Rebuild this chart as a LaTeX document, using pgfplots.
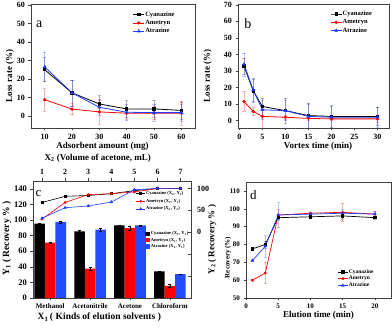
\documentclass[border=0pt]{standalone}
\usepackage{fontspec}
\setmainfont{Liberation Serif}
\usepackage{pgfplots}
\pgfplotsset{compat=1.18}
\definecolor{colCy}{RGB}{0,0,0}
\definecolor{colAm}{RGB}{255,0,0}
\definecolor{colAt}{RGB}{30,60,255}
\definecolor{colAtbar}{RGB}{35,75,255}
\pgfplotsset{
  base/.style={scale only axis, anchor=south west,
    /pgf/number format/assume math mode=true,
    tick label style={font=\bfseries\fontsize{8}{9}\selectfont},
    label style={font=\bfseries\fontsize{9}{10}\selectfont},
    xtick pos=left, ytick pos=left, major tick length=2.5pt, tick align=outside,
    axis line style={black!75, line width=0.6pt},
    every tick/.style={black!75, line width=0.5pt},
    legend cell align=left,
    legend style={draw=none, fill=none, inner sep=0pt, row sep=1.2pt,
      font=\bfseries\fontsize{6.5}{7}\selectfont, nodes={inner sep=0.6pt}},
    legend image code/.code={\draw[mark repeat=2,mark phase=2,##1] plot coordinates {(0pt,0pt) (5.5pt,0pt) (11pt,0pt)};},
  },
  shortline/.style={legend image code/.code={\draw[mark repeat=2,mark phase=2,##1] plot coordinates {(0pt,0pt) (#1,0pt) (2*#1,0pt)};}},
  barleg/.style={legend image code/.code={\fill[##1] (0pt,-2pt) rectangle (5pt,2.2pt);}},
  errs/.style={error bars/.cd, y dir=both, y explicit,
    error bar style={#1, opacity=0.3, line width=0.45pt},
    error mark options={rotate=90, mark size=1.6pt, #1, opacity=0.3, line width=0.45pt}},
  ln/.style={#1, line width=0.8pt, mark size=1.2pt, mark options={solid, fill=#1}},
}
\begin{document}
\begin{tikzpicture}
\useasboundingbox (0,0) rectangle (392pt,328pt);
% ---------- panel a
\begin{axis}[base, at={(31pt,200pt)}, width=164pt, height=124pt,
  xmin=5, xmax=65, ymin=-6.5, ymax=60.5,
  xtick={10,20,...,60}, ytick={0,10,...,60},
  xlabel={Adsorbent amount (mg)}, ylabel={Loss rate (\%)},
  xlabel style={at={(axis description cs:0.436,-0.15)}, anchor=center},
  ylabel style={at={(axis description cs:-0.128,0.42)}, anchor=center},
  legend style={at={(axis description cs:0.62,0.945)}, anchor=north west}]
\addplot[ln=colCy, mark=square*, errs=colCy] table[x=x,y=y,y error=e] {
x y e
10 25 6.5
20 12.5 7
30 6.5 4.5
40 3.8 4.5
50 3.8 4.5
60 3.0 4.5
};
\addplot[ln=colAm, mark=*, errs=colAm] table[x=x,y=y,y error=e] {
x y e
10 8.8 6
20 3.7 3
30 2.2 6.5
40 1.5 3
50 1.5 3.5
60 1.5 6.5
};
\addplot[ln=colAt, mark=triangle*, mark size=1.5pt, errs=colAt] table[x=x,y=y,y error=e] {
x y e
10 26.5 8
20 12.5 7
30 4.7 4.5
40 2.0 4.5
50 1.8 4.5
60 1.8 4.5
};
\legend{Cyanazine, Ametryn, Atrazine}
\node[font=\fontsize{14}{14}\selectfont] at (axis description cs:0.05,0.84) {a};
\end{axis}
% ---------- panel b
\begin{axis}[base, at={(238pt,200pt)}, width=151pt, height=124pt,
  xmin=-0.3, xmax=32.5, ymin=-4.5, ymax=70.5,
  xtick={0,5,...,30}, ytick={0,10,...,70},
  xlabel={Vortex time (min)}, ylabel={Loss rate (\%)},
  xlabel style={at={(axis description cs:0.53,-0.15)}, anchor=center},
  ylabel style={at={(axis description cs:-0.2,0.42)}, anchor=center},
  legend style={at={(axis description cs:0.61,0.95)}, anchor=north west}]
\addplot[ln=colCy, mark=square*, errs=colCy] table[x=x,y=y,y error=e] {
x y e
1 33 5
3 18 7
5 8.5 5
10 6 7.5
15 3 7.5
20 2.5 6.5
30 2.5 5.5
};
\addplot[ln=colAm, mark=*, errs=colAm] table[x=x,y=y,y error=e] {
x y e
1 11.5 6
3 5.5 2.5
5 2.5 7
10 2 1
15 1.3 1
20 1 1
30 1 2
};
\addplot[ln=colAt, mark=triangle*, mark size=1.5pt, errs=colAt] table[x=x,y=y,y error=e] {
x y e
1 34 7
3 18.5 7
5 6.5 6
10 6 6
15 2.5 7.5
20 2 6.5
30 2 6
};
\legend{Cyanazine, Ametryn, Atrazine}
\node[font=\fontsize{14}{14}\selectfont] at (axis description cs:0.066,0.84) {b};
\end{axis}
% ---------- panel c : bars
\begin{axis}[base, at={(33pt,30pt)}, width=158pt, height=117pt,
  xmin=0.568, xmax=4.53, ymin=0, ymax=150,
  xtick={1,2,3,4}, xticklabels={Methanol, Acetonitrile, Acetone, Chloroform},
  x tick label style={font=\bfseries\fontsize{7}{8}\selectfont},
  y tick label style={font=\bfseries\fontsize{8.5}{9}\selectfont},
  ytick={0,20,...,140},
  xlabel={X\textsubscript{1}\,(\;Kinds of elution solvents\;)},
  ylabel={Y\textsubscript{1}\,(\;Recovery \%\;)},
  label style={font=\bfseries\fontsize{9.5}{10}\selectfont},
  xlabel style={at={(axis description cs:0.42,-0.168)}, anchor=center},
  ylabel style={at={(axis description cs:-0.165,0.51)}, anchor=center},
  ybar, bar width=0.264,
  legend style={at={(axis description cs:0.71,0.575)}, anchor=north west, row sep=0.6pt,
     font=\bfseries\fontsize{4.5}{5}\selectfont},
  barleg,
  error bars/error bar style={black, line width=0.4pt},
  error bars/error mark options={rotate=90, mark size=1.5pt, black, line width=0.4pt}]
\addplot[fill=black, draw=none, bar shift=-0.264, error bars/.cd, y dir=both, y explicit]
  table[x=x,y=y,y error=e] {
x y e
1 95.5 1
2 85.5 2
3 93 0.5
4 34 0.5
};
\addlegendentry{Cyanazine (X\textsubscript{1}, Y\textsubscript{1})}
\addplot[fill=colAm, draw=none, bar shift=0, error bars/.cd, y dir=both, y explicit]
  table[x=x,y=y,y error=e] {
x y e
1 71 1
2 37.5 2.5
3 89.5 2
4 15.5 2
};
\addlegendentry{Ametryn (X\textsubscript{1}, Y\textsubscript{1})}
\addplot[fill=colAtbar, draw=none, bar shift=0.264, error bars/.cd, y dir=both, y explicit]
  table[x=x,y=y,y error=e] {
x y e
1 97.5 1.5
2 87.5 1.5
3 93 0.5
4 30.5 0.5
};
\addlegendentry{Atrazine (X\textsubscript{1}, Y\textsubscript{1})}
\node[font=\fontsize{13}{13}\selectfont] at (axis description cs:0.035,0.895) {c};
\end{axis}
% ---------- panel c : lines
\begin{axis}[base, at={(33pt,30pt)}, width=158pt, height=117pt,
  axis x line*=top, axis y line*=right,
  xtick pos=right, ytick pos=right,
  y tick style={/pgfplots/tick align=inside},
  xmin=0.61, xmax=7.45, ymin=-150, ymax=117,
  xtick={1,...,7}, ytick={-150,-100,...,100}, yticklabels={,,,0,50,100},
  tick label style={font=\bfseries\fontsize{8}{9}\selectfont},
  xlabel={X\textsubscript{2} (Volume of acetone, mL)},
  ylabel={Y\textsubscript{2}\,(\;Recovery \%\;)},
  label style={font=\bfseries\fontsize{9}{10}\selectfont},
  xlabel style={at={(axis description cs:0.41,1.19)}, anchor=center},
  ylabel style={at={(axis description cs:1.135,0.5)}, anchor=center},
  legend style={at={(axis description cs:0.65,0.92)}, anchor=north west, row sep=2pt,
     font=\bfseries\fontsize{4.5}{5}\selectfont},
  shortline=4.5pt]
\addplot[colCy, line width=0.6pt, mark=square*, mark size=1.1pt] coordinates {(1,68) (2,82) (3,84) (4,88) (5,95) (6,100) (7,100)};
\addlegendentry{Cyanazine (X\textsubscript{2}, Y\textsubscript{2})}
\addplot[colAm, line width=0.6pt, mark=*, mark size=1.1pt] coordinates {(1,30) (2,68) (3,86) (4,88) (5,92) (6,100) (7,100)};
\addlegendentry{Ametryn (X\textsubscript{2}, Y\textsubscript{2})}
\addplot[colAt, line width=0.6pt, mark=triangle*, mark size=1.4pt] coordinates {(1,32) (2,56) (3,60) (4,69) (5,97) (6,100) (7,100)};
\addlegendentry{Atrazine (X\textsubscript{2}, Y\textsubscript{2})}
\end{axis}
% ---------- panel d
\begin{axis}[base, at={(246pt,30pt)}, width=145pt, height=116pt,
  xmin=0, xmax=22.5, ymin=50, ymax=115,
  xtick={0,5,...,20}, ytick={50,60,...,110},
  tick label style={font=\bfseries\fontsize{7}{8}\selectfont},
  xlabel={Elution time (min)}, ylabel={Recovery (\%)},
  xlabel style={font=\bfseries\fontsize{9}{10}\selectfont, at={(axis description cs:0.5,-0.147)}, anchor=center},
  ylabel style={font=\bfseries\fontsize{7}{8}\selectfont, at={(axis description cs:-0.125,0.35)}, anchor=center},
  legend style={at={(axis description cs:0.63,0.255)}, anchor=north west, row sep=0.4pt,
     font=\bfseries\fontsize{5.5}{6}\selectfont},
  shortline=5pt]
\addplot[ln=colCy, line width=0.7pt, mark=square*, mark size=1.1pt, errs=colCy] table[x=x,y=y,y error=e] {
x y e
1 77.5 0.5
3 80 2
5 95 1
10 95.5 0.5
15 96 2
20 95 1
};
\addplot[ln=colAm, line width=0.7pt, mark=*, mark size=1.1pt, errs=colAm] table[x=x,y=y,y error=e] {
x y e
1 60 0.5
3 64 6
5 96.5 3
10 97.5 0.5
15 98 5
20 97 1.5
};
\addplot[ln=colAt, line width=0.7pt, mark=triangle*, mark size=1.3pt, errs=colAt] table[x=x,y=y,y error=e] {
x y e
1 71 0.5
3 79 6
5 96.5 7
10 97 1
15 97.5 2
20 97 1.5
};
\legend{Cyanazine, Ametryn, Atrazine}
\node[font=\fontsize{13}{13}\selectfont] at (axis description cs:0.05,0.885) {d};
\end{axis}
\end{tikzpicture}
\end{document}
